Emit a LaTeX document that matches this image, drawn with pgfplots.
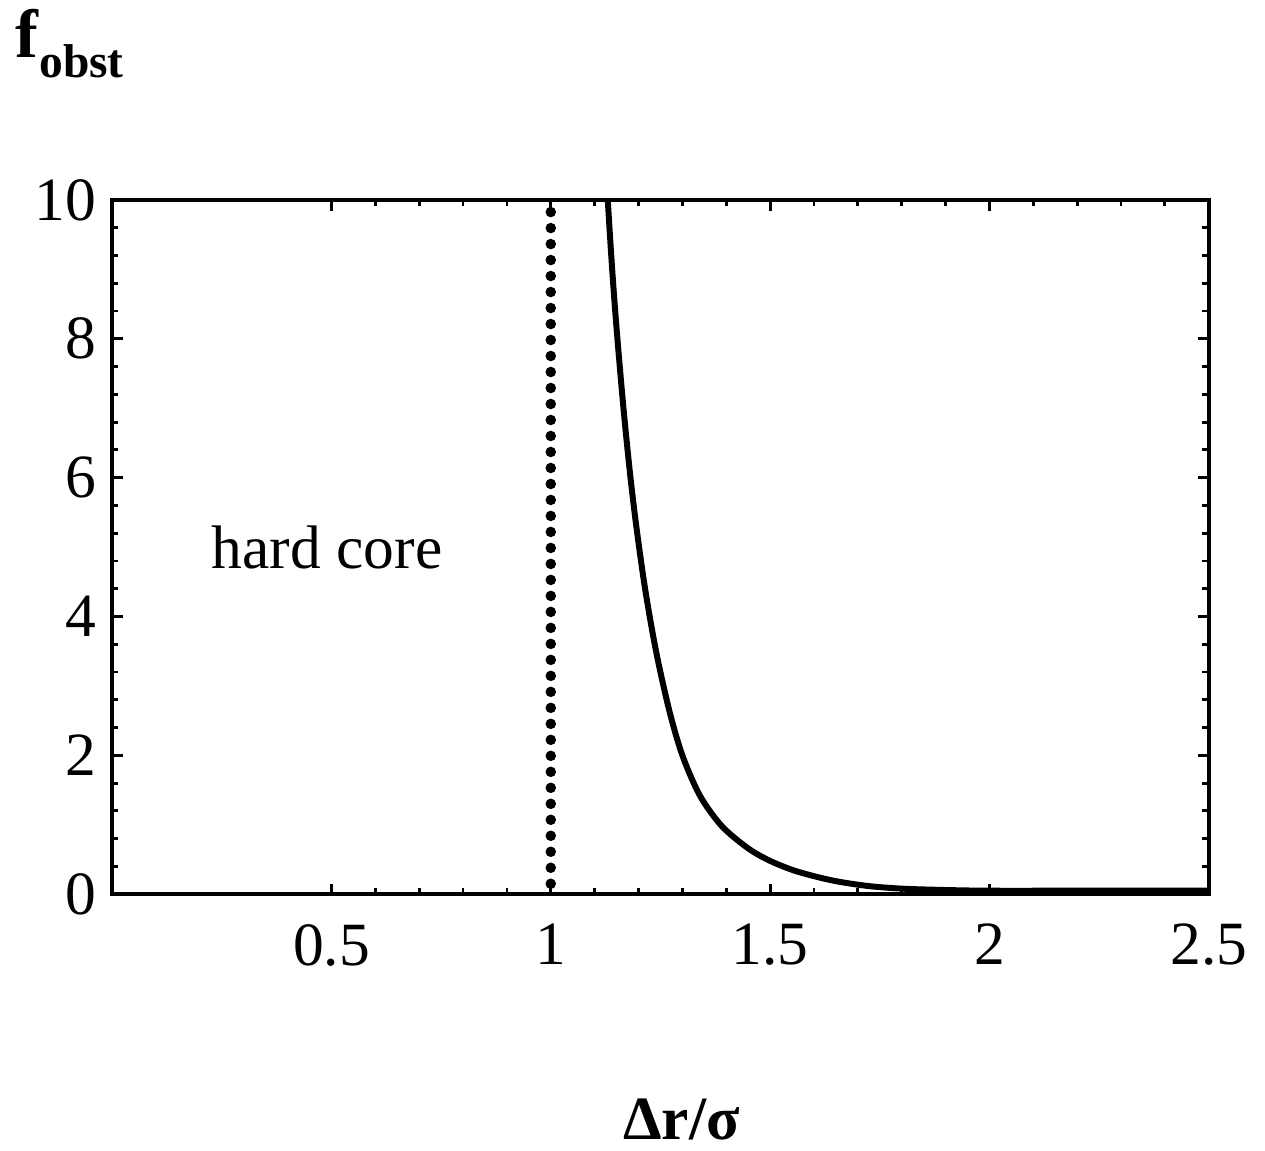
\documentclass[border=0pt]{standalone}
\usepackage{pgfplots}
\pgfplotsset{compat=1.18}
\usepackage{fontspec}
\setmainfont{Liberation Serif}
\begin{document}
\begin{tikzpicture}
\begin{axis}[
  at={(0,0)}, anchor=south west,
  width=312pt, height=197.5pt, scale only axis,
  xmin=0, xmax=2.5, ymin=0, ymax=10,
  xtick={0.5,1,1.5,2,2.5},
  xticklabels={0.5,1,1.5,2,2.5},
  ytick={0,2,4,6,8,10},
  minor x tick num=4,
  minor y tick num=4,
  tick align=inside,
  major tick length=3pt,
  minor tick length=1.8pt,
  every tick/.style={black, line width=0.8pt},
  axis line style={line width=1.1pt},
  /pgf/number format/assume math mode=true,
  ticklabel style={font=\fontsize{17.5}{20}\selectfont},
  xticklabel style={yshift=-5pt},
  yticklabel style={xshift=-1pt},
  clip=true,
]
\addplot[black, line width=1.7pt, smooth] coordinates {
(1.120,11.2) (1.130,10.0) (1.140,9.0) (1.150,8.15) (1.165,7.05) (1.180,6.1) (1.195,5.3)
(1.215,4.4) (1.240,3.5) (1.270,2.65) (1.300,2.0) (1.340,1.42) (1.390,0.98)
(1.450,0.66) (1.500,0.48) (1.560,0.33) (1.640,0.20) (1.720,0.12) (1.800,0.08)
(1.900,0.06) (2.000,0.05) (2.200,0.05) (2.500,0.05)
};
\addplot[black, line width=3pt, line cap=round, dash pattern=on 0pt off 4.55pt] coordinates {(1,0.15) (1,10)};
\node[font=\fontsize{17.5}{20}\selectfont] at (axis cs:0.49,5.0) {hard core};
\end{axis}
\node[font=\fontsize{17.5}{20}\selectfont\bfseries] at (162pt,-64pt) {Δr/σ};
\node[anchor=west, inner sep=0pt] at (-27.6pt,242pt) {{\fontsize{19.5}{22}\selectfont\textbf{f}}\raisebox{-5.5pt}{\fontsize{13.5}{15}\selectfont\textbf{obst}}};
\pgfresetboundingbox
\path (-31.9pt,-72.8pt) rectangle (328pt,254.4pt);
\end{tikzpicture}
\end{document}
